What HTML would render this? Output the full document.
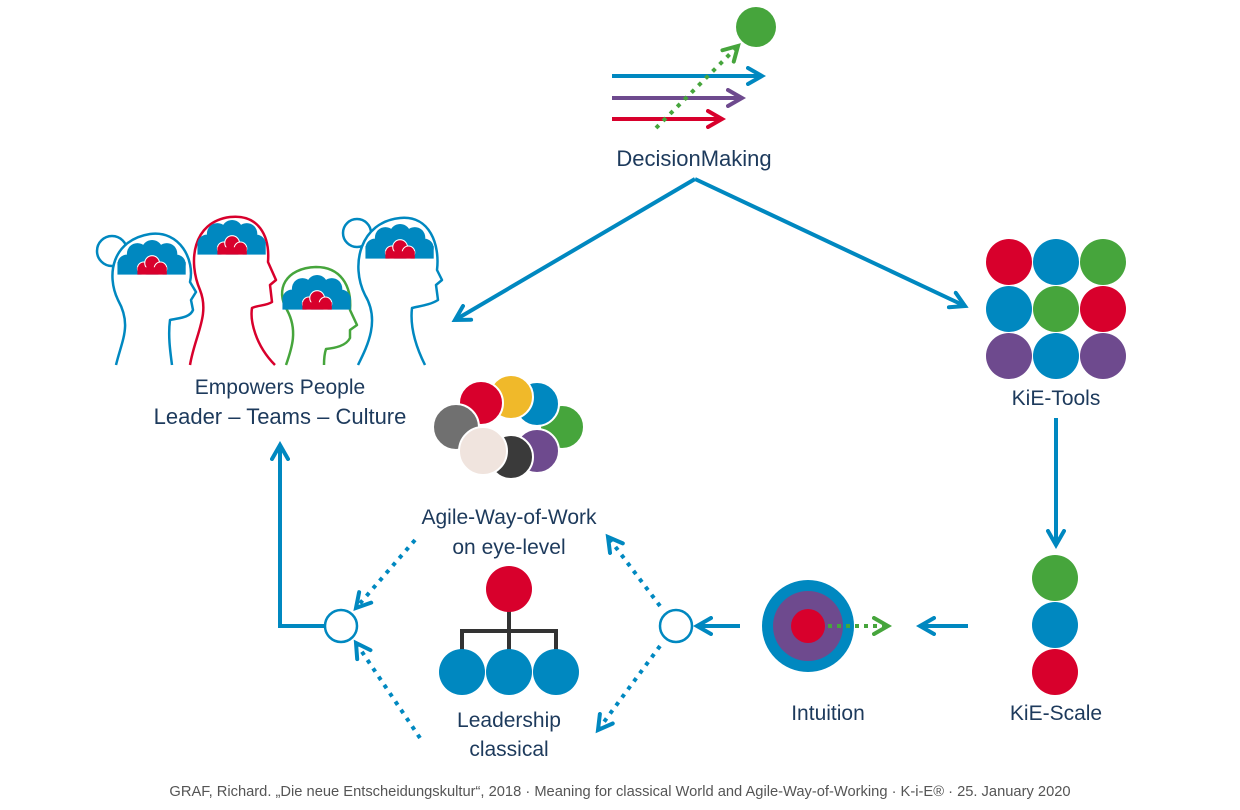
<!DOCTYPE html>
<html><head><meta charset="utf-8"><style>
html,body{margin:0;padding:0;background:#fff;}
svg{display:block;}
text{font-family:"Liberation Sans",sans-serif;fill:#1d3a5c;}
</style></head><body>
<svg width="1240" height="810" viewBox="0 0 1240 810" xmlns="http://www.w3.org/2000/svg">
<defs>
<marker id="ab" viewBox="0 0 10 10" refX="8" refY="5" markerWidth="5" markerHeight="5" orient="auto"><path d="M1,1 L8,5 L1,9" fill="none" stroke="#0088c0" stroke-width="2" stroke-linecap="round"/></marker>
<marker id="ag" viewBox="0 0 10 10" refX="8" refY="5" markerWidth="5" markerHeight="5" orient="auto"><path d="M1,1 L8,5 L1,9" fill="none" stroke="#46a53c" stroke-width="2" stroke-linecap="round"/></marker>
<marker id="ap" viewBox="0 0 10 10" refX="8" refY="5" markerWidth="5" markerHeight="5" orient="auto"><path d="M1,1 L8,5 L1,9" fill="none" stroke="#6e4a8e" stroke-width="2" stroke-linecap="round"/></marker>
<marker id="ar" viewBox="0 0 10 10" refX="8" refY="5" markerWidth="5" markerHeight="5" orient="auto"><path d="M1,1 L8,5 L1,9" fill="none" stroke="#d8002c" stroke-width="2" stroke-linecap="round"/></marker>
<g id="cloud">
<g fill="#0088c0"><circle cx="-22" cy="2" r="9"/><circle cx="-12" cy="-8" r="10"/><circle cx="2" cy="-11" r="10"/><circle cx="16" cy="-8" r="10"/><circle cx="25" cy="2" r="9"/><rect x="-31" y="0" width="65" height="12"/></g>
<g fill="#d8002c" stroke="#fff" stroke-width="1"><circle cx="-6" cy="6" r="6"/><circle cx="2" cy="1" r="7"/><circle cx="10" cy="6" r="6"/><rect x="-12" y="5" width="28" height="7" stroke="none"/></g>
</g>
</defs>

<line x1="612" y1="76" x2="762" y2="76" stroke="#0088c0" stroke-width="4" marker-end="url(#ab)"/>
<line x1="612" y1="98" x2="742" y2="98" stroke="#6e4a8e" stroke-width="4" marker-end="url(#ap)"/>
<line x1="612" y1="119" x2="722" y2="119" stroke="#d8002c" stroke-width="4" marker-end="url(#ar)"/>
<line x1="656" y1="128" x2="738" y2="46" stroke="#46a53c" stroke-width="4" stroke-dasharray="4,6" marker-end="url(#ag)"/>
<circle cx="756" cy="27" r="20" fill="#46a53c"/>
<text x="694" y="166" font-size="22" text-anchor="middle">DecisionMaking</text>

<line x1="695" y1="179" x2="455" y2="320" stroke="#0088c0" stroke-width="4" marker-end="url(#ab)"/>
<line x1="695" y1="179" x2="965" y2="306" stroke="#0088c0" stroke-width="4" marker-end="url(#ab)"/>
<line x1="1056" y1="418" x2="1056" y2="545" stroke="#0088c0" stroke-width="4" marker-end="url(#ab)"/>
<line x1="968" y1="626" x2="920" y2="626" stroke="#0088c0" stroke-width="4" marker-end="url(#ab)"/>
<line x1="740" y1="626" x2="697" y2="626" stroke="#0088c0" stroke-width="4" marker-end="url(#ab)"/>
<polyline points="325,626 280,626 280,445" fill="none" stroke="#0088c0" stroke-width="4" marker-end="url(#ab)"/>
<circle cx="676" cy="626" r="16" fill="#fff" stroke="#0088c0" stroke-width="2.5"/>
<circle cx="341" cy="626" r="16" fill="#fff" stroke="#0088c0" stroke-width="2.5"/>
<g stroke="#0088c0" stroke-width="4" stroke-dasharray="4,6" fill="none">
<line x1="660" y1="606" x2="608" y2="537" marker-end="url(#ab)"/>
<line x1="660" y1="646" x2="598" y2="730" marker-end="url(#ab)"/>
<line x1="415" y1="540" x2="356" y2="608" marker-end="url(#ab)"/>
<line x1="420" y1="738" x2="356" y2="643" marker-end="url(#ab)"/>
</g>

<g fill="none" stroke-width="2.5" stroke-linejoin="round">
<circle cx="112" cy="251" r="15" stroke="#0088c0" fill="#fff"/>
<path d="M116,365 C122,340 132,325 118,300 C106,275 112,240 150,234 C180,230 195,260 190,282 L196,292 L191,300 L193,310 C190,318 178,318 170,320 C168,335 170,350 172,365" stroke="#0088c0" fill="#fff"/>
<path d="M190,365 C195,335 210,315 200,290 C188,262 192,222 230,217 C258,214 270,235 268,262 L276,280 L270,285 L272,302 C266,306 258,305 252,308 C250,320 255,345 275,365" stroke="#d8002c" fill="#fff"/>
<circle cx="357" cy="233" r="14" stroke="#0088c0" fill="#fff"/>
<path d="M358,365 C368,345 380,320 365,295 C350,265 360,222 400,218 C430,215 440,245 437,270 L442,280 L436,285 L438,300 C430,305 420,306 412,308 C410,325 415,345 425,365" stroke="#0088c0" fill="#fff"/>
<path d="M286,365 C292,348 298,330 287,310 C275,290 285,268 316,267 C340,267 352,285 350,310 L357,325 L350,330 L350,338 C346,346 335,348 326,349 C324,355 324,360 324,365" stroke="#46a53c" fill="#fff"/>
</g>
<use href="#cloud" transform="translate(150,262) scale(1.05)"/>
<use href="#cloud" transform="translate(230,242) scale(1.05)"/>
<use href="#cloud" transform="translate(315,297) scale(1.05)"/>
<use href="#cloud" transform="translate(398,246) scale(1.05)"/>
<text x="280" y="394" font-size="21" text-anchor="middle">Empowers People</text>
<text x="280" y="424" font-size="22" text-anchor="middle">Leader – Teams – Culture</text>

<g stroke="#fff" stroke-width="2">
<circle cx="562" cy="427" r="22" fill="#46a53c"/>
<circle cx="537" cy="404" r="22" fill="#0088c0"/>
<circle cx="511" cy="397" r="22" fill="#f0b92a"/>
<circle cx="481" cy="403" r="22" fill="#d8002c"/>
<circle cx="456" cy="427" r="23" fill="#707070"/>
<circle cx="537" cy="451" r="22" fill="#6e4a8e"/>
<circle cx="511" cy="457" r="22" fill="#3a3a3a"/>
<circle cx="483" cy="451" r="24" fill="#f0e4de"/>
</g>
<text x="509" y="524" font-size="21" text-anchor="middle">Agile-Way-of-Work</text>
<text x="509" y="554" font-size="21" text-anchor="middle">on eye-level</text>

<g stroke="#333" stroke-width="4" fill="none">
<line x1="509" y1="600" x2="509" y2="650"/>
<polyline points="462,650 462,631 556,631 556,650"/>
</g>
<circle cx="509" cy="589" r="23" fill="#d8002c"/>
<circle cx="462" cy="672" r="23" fill="#0088c0"/>
<circle cx="509" cy="672" r="23" fill="#0088c0"/>
<circle cx="556" cy="672" r="23" fill="#0088c0"/>
<text x="509" y="727" font-size="21" text-anchor="middle">Leadership</text>
<text x="509" y="756" font-size="21" text-anchor="middle">classical</text>

<circle cx="808" cy="626" r="46" fill="#0088c0"/>
<circle cx="808" cy="626" r="35" fill="#6e4a8e"/>
<circle cx="808" cy="626" r="17" fill="#d8002c"/>
<line x1="828" y1="626" x2="888" y2="626" stroke="#46a53c" stroke-width="4" stroke-dasharray="4,5" marker-end="url(#ag)"/>
<text x="828" y="720" font-size="21" text-anchor="middle">Intuition</text>

<circle cx="1009" cy="262" r="23" fill="#d8002c"/>
<circle cx="1056" cy="262" r="23" fill="#0088c0"/>
<circle cx="1103" cy="262" r="23" fill="#46a53c"/>
<circle cx="1009" cy="309" r="23" fill="#0088c0"/>
<circle cx="1056" cy="309" r="23" fill="#46a53c"/>
<circle cx="1103" cy="309" r="23" fill="#d8002c"/>
<circle cx="1009" cy="356" r="23" fill="#6e4a8e"/>
<circle cx="1056" cy="356" r="23" fill="#0088c0"/>
<circle cx="1103" cy="356" r="23" fill="#6e4a8e"/>
<text x="1056" y="405" font-size="21" text-anchor="middle">KiE-Tools</text>

<circle cx="1055" cy="578" r="23" fill="#46a53c"/>
<circle cx="1055" cy="625" r="23" fill="#0088c0"/>
<circle cx="1055" cy="672" r="23" fill="#d8002c"/>
<text x="1056" y="720" font-size="21" text-anchor="middle">KiE-Scale</text>

<text x="620" y="796" font-size="14.7" text-anchor="middle" style="fill:#555">GRAF, Richard. „Die neue Entscheidungskultur“, 2018 · Meaning for classical World and Agile-Way-of-Working · K-i-E® · 25. January 2020</text>
</svg>
</body></html>
